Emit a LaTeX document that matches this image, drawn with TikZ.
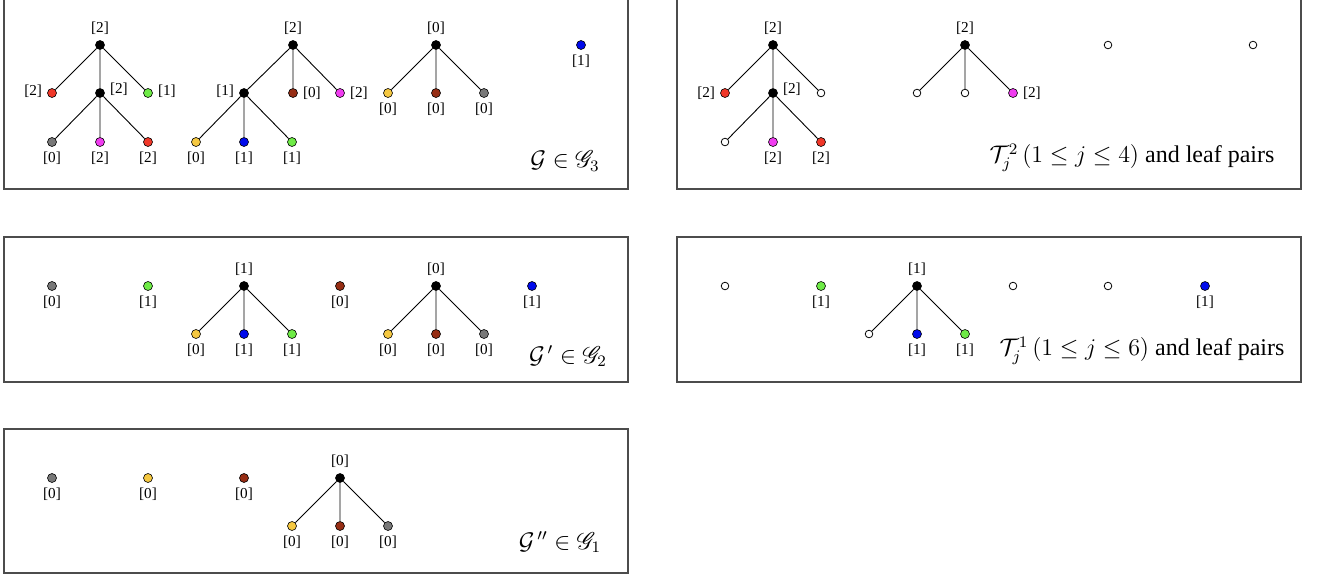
\documentclass[tikz,border=0pt]{standalone}
\usepackage[no-math]{fontspec}
\setmainfont{Liberation Serif}
\usepackage{mathrsfs}
\definecolor{lred}{RGB}{240,55,40}
\definecolor{lgreen}{RGB}{110,235,70}
\definecolor{lgray}{RGB}{120,120,120}
\definecolor{lmag}{RGB}{240,60,240}
\definecolor{lyellow}{RGB}{245,200,65}
\definecolor{lbrown}{RGB}{150,45,20}
\definecolor{lblue}{RGB}{0,10,235}
\newcommand{\lbl}{\fontsize{7.6}{9}\selectfont}
\newcommand{\capfont}{\fontsize{12}{14}\selectfont}

\begin{document}
\begin{tikzpicture}[x=0.5pt, y=-0.5pt,
    vtx/.style={circle, draw=black, line width=0.3pt, inner sep=0pt, minimum size=4.5pt},
    hole/.style={circle, draw=black, fill=white, line width=0.4pt, inner sep=0pt, minimum size=3.8pt},
    every label/.style={font=\lbl, inner sep=2.4pt},
    edge/.style={line width=0.45pt},
    panel/.style={draw=black!70, line width=0.6pt},
    caption/.style={font=\capfont}]
      \useasboundingbox (0,0) rectangle (1321,579);
      \draw [panel] (4,0) |- (628,189) -- (628,0);
      \draw [panel] (677,0) |- (1301,189) -- (1301,0);
      \draw [panel] (4,237) rectangle (628,382);
      \draw [panel] (677,237) rectangle (1301,382);
      \draw [panel] (4,429) rectangle (628,573);
      \node [vtx, fill=black, label={above:{[2]}}] (a1) at (100,45) {};
      \node [vtx, fill=lred, label={[yshift=1pt]left:{[2]}}] (a1l) at (52,93) {};
      \node [vtx, fill=black, label={[yshift=2pt]right:{[2]}}] (a1m) at (100,93) {};
      \node [vtx, fill=lgreen, label={[yshift=1pt]right:{[1]}}] (a1r) at (148,93) {};
      \node [vtx, fill=lgray, label={below:{[0]}}] (a1ml) at (52,142) {};
      \node [vtx, fill=lmag, label={below:{[2]}}] (a1mm) at (100,142) {};
      \node [vtx, fill=lred, label={below:{[2]}}] (a1mr) at (148,142) {};
      \draw [edge] (a1) -- (a1l) (a1) -- (a1m) (a1) -- (a1r);
      \draw [edge] (a1m) -- (a1ml) (a1m) -- (a1mm) (a1m) -- (a1mr);
      \node [vtx, fill=black, label={above:{[2]}}] (a2) at (293,45) {};
      \node [vtx, fill=black, label={[yshift=1pt]left:{[1]}}] (a2l) at (244,93) {};
      \node [vtx, fill=lbrown, label={right:{[0]}}] (a2m) at (293,93) {};
      \node [vtx, fill=lmag, label={right:{[2]}}] (a2r) at (340,93) {};
      \node [vtx, fill=lyellow, label={below:{[0]}}] (a2ll) at (196,142) {};
      \node [vtx, fill=lblue, label={below:{[1]}}] (a2lm) at (244,142) {};
      \node [vtx, fill=lgreen, label={below:{[1]}}] (a2lr) at (292,142) {};
      \draw [edge] (a2) -- (a2l) (a2) -- (a2m) (a2) -- (a2r);
      \draw [edge] (a2l) -- (a2ll) (a2l) -- (a2lm) (a2l) -- (a2lr);
      \node [vtx, fill=black, label={above:{[0]}}] (a3) at (436,45) {};
      \node [vtx, fill=lyellow, label={below:{[0]}}] (a3l) at (388,93) {};
      \node [vtx, fill=lbrown, label={below:{[0]}}] (a3m) at (436,93) {};
      \node [vtx, fill=lgray, label={below:{[0]}}] (a3r) at (484,93) {};
      \draw [edge] (a3) -- (a3l) (a3) -- (a3m) (a3) -- (a3r);
      \node [vtx, fill=lblue, label={below:{[1]}}] (a4) at (581,45) {};
      \node [caption] (capa) at (565,161) {$\mathcal{G}\in\mathscr{G}_3$};
      \node [vtx, fill=black, label={above:{[2]}}] (b1) at (773,45) {};
      \node [vtx, fill=lred, label={left:{[2]}}] (b1l) at (725,93) {};
      \node [vtx, fill=black, label={[yshift=2pt]right:{[2]}}] (b1m) at (773,93) {};
      \node [hole] (b1r) at (821,93) {};
      \node [hole] (b1ml) at (725,142) {};
      \node [vtx, fill=lmag, label={below:{[2]}}] (b1mm) at (773,142) {};
      \node [vtx, fill=lred, label={below:{[2]}}] (b1mr) at (821,142) {};
      \draw [edge] (b1) -- (b1l) (b1) -- (b1m) (b1) -- (b1r);
      \draw [edge] (b1m) -- (b1ml) (b1m) -- (b1mm) (b1m) -- (b1mr);
      \node [vtx, fill=black, label={above:{[2]}}] (b2) at (965,45) {};
      \node [hole] (b2l) at (917,93) {};
      \node [hole] (b2m) at (965,93) {};
      \node [vtx, fill=lmag, label={right:{[2]}}] (b2r) at (1013,93) {};
      \draw [edge] (b2) -- (b2l) (b2) -- (b2m) (b2) -- (b2r);
      \node [hole] (b3) at (1108,45) {};
      \node [hole] (b4) at (1253,45) {};
      \node [caption] (capb) at (1132,158) {$\mathcal{T}_j^2\,(1\le j\le 4)$ and leaf pairs};
      \node [vtx, fill=lgray, label={below:{[0]}}] (c1) at (52,286) {};
      \node [vtx, fill=lgreen, label={below:{[1]}}] (c2) at (148,286) {};
      \node [vtx, fill=black, label={above:{[1]}}] (c3) at (244,286) {};
      \node [vtx, fill=lyellow, label={below:{[0]}}] (c3l) at (196,334) {};
      \node [vtx, fill=lblue, label={below:{[1]}}] (c3m) at (244,334) {};
      \node [vtx, fill=lgreen, label={below:{[1]}}] (c3r) at (292,334) {};
      \draw [edge] (c3) -- (c3l) (c3) -- (c3m) (c3) -- (c3r);
      \node [vtx, fill=lbrown, label={below:{[0]}}] (c4) at (340,286) {};
      \node [vtx, fill=black, label={above:{[0]}}] (c5) at (436,286) {};
      \node [vtx, fill=lyellow, label={below:{[0]}}] (c5l) at (388,334) {};
      \node [vtx, fill=lbrown, label={below:{[0]}}] (c5m) at (436,334) {};
      \node [vtx, fill=lgray, label={below:{[0]}}] (c5r) at (484,334) {};
      \draw [edge] (c5) -- (c5l) (c5) -- (c5m) (c5) -- (c5r);
      \node [vtx, fill=lblue, label={below:{[1]}}] (c6) at (532,286) {};
      \node [caption] (capc) at (568,356) {$\mathcal{G}^{\,\prime}\in\mathscr{G}_2$};
      \node [hole] (d1) at (725,286) {};
      \node [vtx, fill=lgreen, label={below:{[1]}}] (d2) at (821,286) {};
      \node [vtx, fill=black, label={above:{[1]}}] (d3) at (917,286) {};
      \node [hole] (d3l) at (869,334) {};
      \node [vtx, fill=lblue, label={below:{[1]}}] (d3m) at (917,334) {};
      \node [vtx, fill=lgreen, label={below:{[1]}}] (d3r) at (965,334) {};
      \draw [edge] (d3) -- (d3l) (d3) -- (d3m) (d3) -- (d3r);
      \node [hole] (d4) at (1013,286) {};
      \node [hole] (d5) at (1108,286) {};
      \node [vtx, fill=lblue, label={below:{[1]}}] (d6) at (1205,286) {};
      \node [caption] (capd) at (1142,351) {$\mathcal{T}_j^1\,(1\le j\le 6)$ and leaf pairs};
      \node [vtx, fill=lgray, label={below:{[0]}}] (e1) at (52,478) {};
      \node [vtx, fill=lyellow, label={below:{[0]}}] (e2) at (148,478) {};
      \node [vtx, fill=lbrown, label={below:{[0]}}] (e3) at (244,478) {};
      \node [vtx, fill=black, label={above:{[0]}}] (e4) at (340,478) {};
      \node [vtx, fill=lyellow, label={below:{[0]}}] (e4l) at (292,526) {};
      \node [vtx, fill=lbrown, label={below:{[0]}}] (e4m) at (340,526) {};
      \node [vtx, fill=lgray, label={below:{[0]}}] (e4r) at (388,526) {};
      \draw [edge] (e4) -- (e4l) (e4) -- (e4m) (e4) -- (e4r);
      \node [caption] (cape) at (560,542) {$\mathcal{G}^{\,\prime\prime}\in\mathscr{G}_1$};
   \end{tikzpicture}
\end{document}
